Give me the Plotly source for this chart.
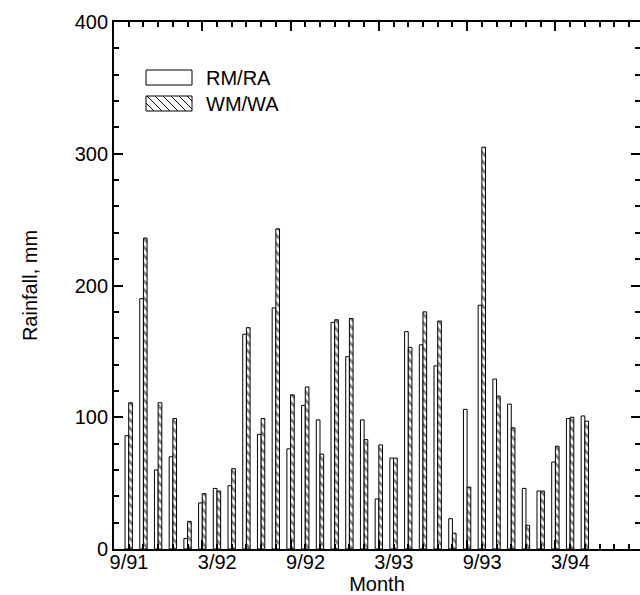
import plotly.graph_objects as go

# ---------------- data ----------------
months = ["9/91", "10/91", "11/91", "12/91",
          "1/92", "2/92", "3/92", "4/92", "5/92", "6/92", "7/92", "8/92",
          "9/92", "10/92", "11/92", "12/92",
          "1/93", "2/93", "3/93", "4/93", "5/93", "6/93", "7/93", "8/93",
          "9/93", "10/93", "11/93", "12/93",
          "1/94", "2/94", "3/94", "4/94"]
rm_ra = [86, 190, 60, 70, 8, 35, 46, 48, 163, 87, 183, 76, 109, 98, 172, 146,
         98, 38, 69, 165, 155, 139, 23, 106, 185, 129, 110, 46, 44, 66, 99, 101]
wm_wa = [111, 236, 111, 99, 21, 42, 44, 61, 168, 99, 243, 117, 123, 72, 174, 175,
         83, 79, 69, 153, 180, 173, 12, 47, 305, 116, 92, 18, 44, 78, 100, 97]
tick_labels = ["9/91", "3/92", "9/92", "3/93", "9/93", "3/94"]
series_names = ["RM/RA", "WM/WA"]
y_ticks = [0, 100, 200, 300, 400]

# ---------------- figure ----------------
W, H = 640, 595
ML, MR, MT, MB = 114, 0, 22, 46
PW, PH = W - ML - MR, H - MT - MB
FONT = "Liberation Sans, Arial, Helvetica, sans-serif"
FS = 20

xpos = [i + 1 for i in range(len(months))]

fig = go.Figure()
fig.add_trace(go.Bar(
    x=xpos, y=rm_ra, name=series_names[0], customdata=months,
    marker=dict(color="white", line=dict(color="black", width=1)),
    showlegend=False))
fig.add_trace(go.Bar(
    x=xpos, y=wm_wa, name=series_names[1], customdata=months,
    marker=dict(color="white", line=dict(color="black", width=1),
                pattern=dict(shape="\\", fgcolor="black", bgcolor="white",
                             size=6, solidity=0.45)),
    showlegend=False))

tickvals = [months.index(t) for t in tick_labels]

fig.update_layout(
    width=W, height=H,
    margin=dict(l=ML, r=MR, t=MT, b=MB, pad=0),
    paper_bgcolor="white", plot_bgcolor="white",
    font=dict(family=FONT, size=FS, color="black"),
    barmode="group", bargap=0.5, bargroupgap=0.0,
    xaxis=dict(
        range=[0, 35.75], showgrid=False, zeroline=False, automargin=False,
        showline=True, linecolor="black", linewidth=1.8, mirror="allticks",
        tickmode="array", tickvals=tickvals, ticktext=tick_labels,
        ticks="inside", ticklen=9, tickwidth=1.8, tickcolor="black",
        ticklabelshift=15, ticklabelstandoff=-6,
        minor=dict(dtick=1, tick0=0, ticks="inside", ticklen=5,
                   tickwidth=1.5, tickcolor="black", showgrid=False),
        title=dict(text="Month", font=dict(size=FS), standoff=12),
        tickfont=dict(size=FS),
    ),
    yaxis=dict(
        range=[0, 400], showgrid=False, zeroline=False, automargin=False,
        showline=True, linecolor="black", linewidth=1.8, mirror="allticks",
        tickmode="array", tickvals=y_ticks, ticksuffix=" ",
        ticks="inside", ticklen=9, tickwidth=1.8, tickcolor="black",
        minor=dict(dtick=20, tick0=0, ticks="inside", ticklen=5,
                   tickwidth=1.5, tickcolor="black", showgrid=False),
        title=dict(text="Rainfall, mm", font=dict(size=FS), standoff=32),
        tickfont=dict(size=FS),
    ),
)

# ---------------- custom legend ----------------
def px2paper(px, py):
    return (px - ML) / PW, (MT + PH - py) / PH

bx0, bx1 = 146, 192
boxes = [(70, 85), (96, 111)]
for (ty, by) in boxes:
    x0, y1 = px2paper(bx0, ty)
    x1, y0 = px2paper(bx1, by)
    fig.add_shape(type="rect", xref="paper", yref="paper",
                  x0=x0, x1=x1, y0=y0, y1=y1,
                  line=dict(color="black", width=1), fillcolor="white")

ty, by = boxes[1]
h = by - ty
segs = []
t = -h
while t < (bx1 - bx0):
    sx, sy = bx0 + t, ty
    ex, ey = bx0 + t + h, by
    if sx < bx0:
        sy = ty + (bx0 - sx)
        sx = bx0
    if ex > bx1:
        ey = by - (ex - bx1)
        ex = bx1
    if ex > sx:
        a = px2paper(sx, sy)
        b = px2paper(ex, ey)
        segs.append(f"M{a[0]:.5f},{a[1]:.5f} L{b[0]:.5f},{b[1]:.5f}")
    t += 8
fig.add_shape(type="path", xref="paper", yref="paper", path=" ".join(segs),
              line=dict(color="black", width=1))

for name, (ty, by) in zip(series_names, boxes):
    tx, tyy = px2paper(204, (ty + by) / 2)
    fig.add_annotation(x=tx, y=tyy, xref="paper", yref="paper", text=name,
                       showarrow=False, xanchor="left", yanchor="middle",
                       font=dict(size=FS, family=FONT, color="black"))

fig.write_html("out.html")
